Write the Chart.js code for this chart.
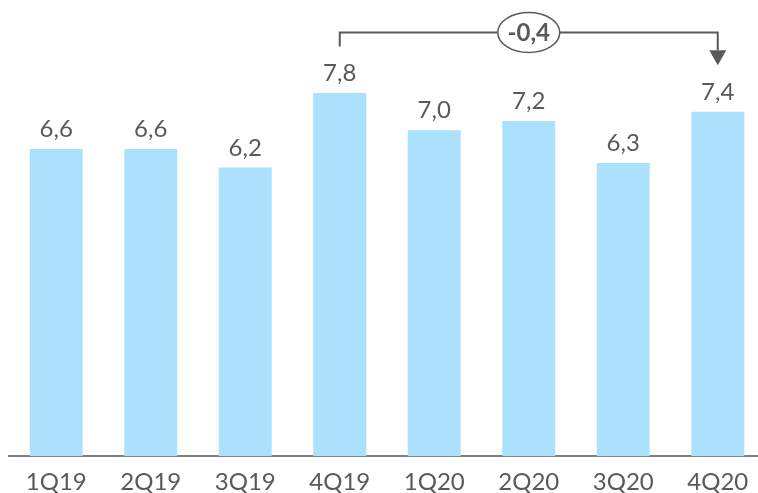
<!DOCTYPE html>
<html>
<head>
<meta charset="utf-8">
<script src="https://cdn.jsdelivr.net/npm/chart.js@4.4.1/dist/chart.umd.min.js"></script>
<style>
  html, body { margin: 0; padding: 0; background: #fff; overflow: hidden; }
  #wrap { position: relative; width: 765px; height: 509px; }
</style>
</head>
<body>
<div id="wrap"><canvas id="chart"></canvas></div>
<script>
// Quarterly values
const categories = ['1Q19', '2Q19', '3Q19', '4Q19', '1Q20', '2Q20', '3Q20', '4Q20'];
const values = [6.6, 6.6, 6.2, 7.8, 7.0, 7.2, 6.3, 7.4];
// Year-over-year comparison between these two quarters
const compareFrom = '4Q19';
const compareTo = '4Q20';

const TEXT = '#595959';
const FONT = 'Lato, "Open Sans", sans-serif';
const fmt = v => v.toFixed(1).replace('.', ',');

// Value labels above each bar
const valueLabels = {
  id: 'valueLabels',
  afterDatasetsDraw(chart) {
    const ctx = chart.ctx;
    const meta = chart.getDatasetMeta(0);
    ctx.save();
    ctx.fillStyle = TEXT;
    ctx.font = '24px ' + FONT;
    ctx.textAlign = 'center';
    ctx.textBaseline = 'alphabetic';
    meta.data.forEach((bar, i) => {
      ctx.fillText(fmt(values[i]), bar.x, bar.y - 12);
    });
    ctx.restore();
  }
};

// Bracket with arrow and the difference in a bubble
const deltaBracket = {
  id: 'deltaBracket',
  afterDraw(chart) {
    const ctx = chart.ctx;
    const x = chart.scales.x, y = chart.scales.y;
    const i0 = categories.indexOf(compareFrom), i1 = categories.indexOf(compareTo);
    const x0 = x.getPixelForValue(i0), x1 = x.getPixelForValue(i1);
    const yTop = y.getPixelForValue(9.1);
    const yLeft = y.getPixelForValue(8.8);
    const yTip = y.getPixelForValue(8.4);
    const headH = 15, headW = 8.5;
    ctx.save();
    ctx.strokeStyle = TEXT;
    ctx.fillStyle = TEXT;
    ctx.lineWidth = 2;
    ctx.beginPath();
    ctx.moveTo(x0, yLeft);
    ctx.lineTo(x0, yTop);
    ctx.lineTo(x1, yTop);
    ctx.lineTo(x1, yTip - headH);
    ctx.stroke();
    ctx.beginPath();
    ctx.moveTo(x1 - headW, yTip - headH);
    ctx.lineTo(x1 + headW, yTip - headH);
    ctx.lineTo(x1, yTip);
    ctx.closePath();
    ctx.fill();
    // bubble
    const cx = (x0 + x1) / 2;
    ctx.beginPath();
    ctx.ellipse(cx, yTop, 31, 20, 0, 0, Math.PI * 2);
    ctx.fillStyle = '#ffffff';
    ctx.fill();
    ctx.lineWidth = 1.5;
    ctx.stroke();
    const delta = Math.round((values[i1] - values[i0]) * 10) / 10;
    ctx.fillStyle = TEXT;
    ctx.font = 'bold 24px ' + FONT;
    ctx.textAlign = 'center';
    ctx.textBaseline = 'middle';
    ctx.fillText((delta > 0 ? '+' : '') + fmt(delta), cx, yTop + 1);
    ctx.restore();
  }
};

new Chart(document.getElementById('chart'), {
  type: 'bar',
  data: {
    labels: categories,
    datasets: [{
      data: values,
      backgroundColor: '#ABE1FC',
      borderWidth: 0,
      barPercentage: 0.56,
      categoryPercentage: 1.0
    }]
  },
  options: {
    responsive: true,
    maintainAspectRatio: false,
    animation: false,
    events: [],
    layout: { padding: { left: 9, right: 0, top: 0, bottom: 0 } },
    plugins: { legend: { display: false }, tooltip: { enabled: false } },
    scales: {
      x: {
        grid: { display: false, drawTicks: false },
        border: { display: true, color: '#7f7f7f', width: 2 },
        ticks: { color: TEXT, font: { family: FONT, size: 24 }, padding: 12 }
      },
      y: {
        display: false,
        min: 0,
        max: 9.8
      }
    }
  },
  plugins: [valueLabels, deltaBracket]
});
</script>
</body>
</html>
